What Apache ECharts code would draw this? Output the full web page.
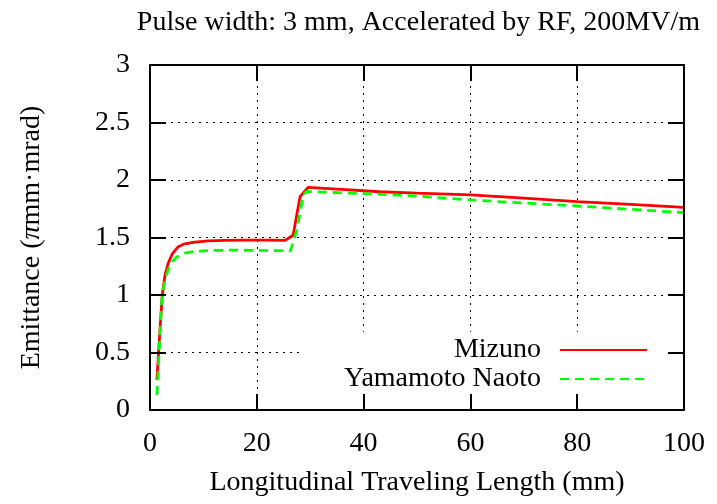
<!DOCTYPE html>
<html><head><meta charset="utf-8">
<script src="https://cdn.jsdelivr.net/npm/echarts@6/dist/echarts.min.js"></script>
<style>html,body{margin:0;padding:0;background:#fff}#c{width:717px;height:504px}</style>
</head><body><div id="c"></div>
<script>
const titleText = 'Pulse width: 3 mm, Accelerated by RF, 200MV/m';
const xName = 'Longitudinal Traveling Length (mm)';
const seriesNames = ['Mizuno', 'Yamamoto Naoto'];
const mizunoX = [1.3, 1.6, 1.9, 2.3, 2.8, 3.4, 4.2, 5.3, 6.5, 8.4, 11, 14, 18, 22, 25.3, 26.8, 28.1, 29.6, 35, 43, 50, 60, 70, 80, 90, 100];
const mizunoY = [0.26, 0.5, 0.72, 1.0, 1.17, 1.275, 1.36, 1.42, 1.445, 1.46, 1.47, 1.475, 1.477, 1.477, 1.475, 1.52, 1.855, 1.935, 1.92, 1.898, 1.885, 1.87, 1.842, 1.812, 1.788, 1.762];
const naotoX = [1.3, 1.5, 1.7, 2.0, 2.3, 2.8, 3.4, 4.2, 5.0, 6.5, 8.4, 12, 16, 20, 24, 26.3, 27.5, 28.7, 29.3, 35, 43, 50, 60, 70, 80, 90, 100];
const naotoY = [0.13, 0.3, 0.5, 0.78, 1.0, 1.13, 1.22, 1.29, 1.33, 1.365, 1.38, 1.388, 1.39, 1.388, 1.385, 1.383, 1.565, 1.87, 1.9, 1.89, 1.876, 1.86, 1.826, 1.80, 1.774, 1.745, 1.716];
const xTicks = {min: 0, max: 100, interval: 20};
const yTicks = {min: 0, max: 3, interval: 0.5};

const FONT = 'Liberation Serif';
const FS = 28;
const chart = echarts.init(document.getElementById('c'), null, {renderer: 'canvas'});
const gridLine = {show: true, lineStyle: {color: '#000', width: 1, type: [2, 5]}};
const none = {show: false};
function xAx(pos, idx, z) {
  return Object.assign({type: 'value', gridIndex: 0, position: pos, z: z}, xTicks, {
    axisLine: idx === 0 ? none : {show: true, onZero: false, lineStyle: {color: '#000', width: 2}},
    axisTick: idx === 0 ? none : {show: true, inside: true, length: 16, lineStyle: {color: '#000', width: 2}},
    axisLabel: idx === 1 ? {show: true, margin: 20, color: '#000', fontFamily: FONT, fontSize: FS} : none,
    splitLine: idx === 0 ? gridLine : none,
    name: idx === 1 ? xName : '', nameLocation: 'middle', nameGap: 59,
    nameTextStyle: {color: '#000', fontFamily: FONT, fontSize: FS}
  });
}
function yAx(pos, idx, z) {
  return Object.assign({type: 'value', gridIndex: 0, position: pos, z: z}, yTicks, {
    axisLine: idx === 0 ? none : {show: true, onZero: false, lineStyle: {color: '#000', width: 2}},
    axisTick: idx === 0 ? none : {show: true, inside: true, length: 16, lineStyle: {color: '#000', width: 2}},
    axisLabel: idx === 1 ? {show: true, margin: 20, color: '#000', fontFamily: FONT, fontSize: FS} : none,
    splitLine: idx === 0 ? gridLine : none,
    name: idx === 1 ? '{n|Emittance (}{i|π}{n|mm·mrad)}' : '', nameLocation: 'middle', nameGap: 104, nameRotate: 90,
    nameTextStyle: {color: '#000', fontFamily: FONT, fontSize: FS,
      rich: {n: {fontFamily: FONT, fontSize: FS, color: '#000'}, i: {fontFamily: FONT, fontSize: FS, fontStyle: 'italic', color: '#000'}}}
  });
}
function legendOf(name, top) {
  return {data: [name], orient: 'vertical', align: 'right', right: 69, top: top, padding: 0,
    itemWidth: 87, itemHeight: 14, itemStyle: {opacity: 0},
    textStyle: {color: '#000', fontFamily: FONT, fontSize: FS, padding: [0, 14, 0, 0]}};
}
chart.setOption({
  animation: false,
  backgroundColor: '#fff',
  title: {text: titleText, right: 12, top: 4, textStyle: {color: '#000', fontFamily: FONT, fontSize: FS, fontWeight: 'normal'}},
  grid: {left: 150, right: 33, top: 65, bottom: 94},
  xAxis: [xAx('bottom', 0, 0), xAx('bottom', 1, 5), xAx('top', 2, 5)],
  yAxis: [yAx('left', 0, 0), yAx('left', 1, 5), yAx('right', 2, 5)],
  graphic: [{type: 'rect', z: 1, shape: {x: 301, y: 332, width: 382, height: 77}, style: {fill: '#fff'}, silent: true}],
  legend: [legendOf(seriesNames[0], 336), legendOf(seriesNames[1], 365)],
  series: [
    {name: seriesNames[0], type: 'line', xAxisIndex: 0, yAxisIndex: 0, showSymbol: false, symbol: 'none', smooth: false, z: 3,
     data: mizunoX.map((x, i) => [x, mizunoY[i]]),
     lineStyle: {color: '#ff0000', width: 2.8}, itemStyle: {color: '#ff0000'}},
    {name: seriesNames[1], type: 'line', xAxisIndex: 0, yAxisIndex: 0, showSymbol: false, symbol: 'none', smooth: false, z: 3,
     data: naotoX.map((x, i) => [x, naotoY[i]]),
     lineStyle: {color: '#00ff00', width: 2.8, type: [9, 6]}, itemStyle: {color: '#00ff00'}}
  ]
});
</script></body></html>
